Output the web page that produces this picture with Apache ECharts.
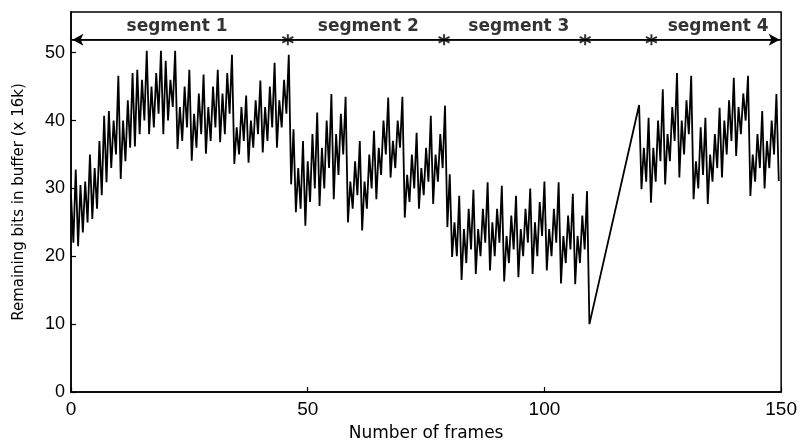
<!DOCTYPE html>
<html>
<head>
<meta charset="utf-8">
<script src="https://cdn.jsdelivr.net/npm/echarts@6/dist/echarts.min.js"></script>
<style>html,body{margin:0;padding:0;background:#fff}#c{width:800px;height:447px}</style>
</head>
<body>
<div id="c"></div>
<script>
// frame index 0..149 ; per frame the top and bottom of the buffer trace (x 16k bits)
const frameHigh = [
 29,32.8,30.5,31,35,33,37,40.7,41.4,40,
 46.6,40,43,47,47.5,46,50.3,45,47,50.3,
 48.8,46,50.3,42,45,47.5,41,44,46.8,42,
 45,47.5,44,47,49.7,39,42,43.7,40,43,
 45.9,42,45,48.5,43,46,49.7,38.7,33,37,
 34,38,41.2,36,40,43.9,38,41,43.5,31,
 34,37,31,35,38.5,36,40,43.4,37,40,
 43.5,32,35,38.2,33,36,40.7,35,38,42.2,
 32.1,25,28.9,24,27,29.8,24,27,30.9,25,
 27,30.4,23,26,28.9,24,27,30,25,28,
 31,24,27,30.9,23,26,29.2,23,26,29.6,
 null,null,null,null,null,null,null,null,null,null,
 42.3,36,40.4,36,40,44.6,38,42,47,40,
 43,46.6,34,39,40.4,35,38,41.9,40,43,
 46.3,42,44,46.6,35,38,41.4,37,40,43.9
];
const frameLow = [
 22,21.5,23.5,25,25.5,27,29,30.9,33,35,
 31.4,34,36,36.2,38,40,38,39,41,38,
 40,42,35.8,37,39,34.1,36,38,35.1,37,
 39,36.8,38,41,33.6,35,37,33.8,36,38,
 35.3,37,39,36,39,41,30.6,26.5,27,24.5,
 28,30,27.4,30,33,28.4,32,35,25,27,
 29,23.8,27,30,28.4,32,35,31.6,33,36,
 25.7,28,30,27,29,31,27.7,31,33,24.3,
 19.9,20,16.5,19,21,17.4,20,22,17.9,20,
 22,16.3,19,21,16.9,20,22,17.4,20,23,
 17.9,20,22,16,19,21,15.9,19,21,10,
 null,null,null,null,null,null,null,null,null,null,
 29.9,31,27.9,31,34,30.6,34,37,31.6,35,
 38,28.4,30,32,27.7,31,33,31.6,35,37,
 34.8,38,40,28.9,31,33,30,33,35,31.1
];
const segmentBounds = [45.8, 78.8, 108.6, 122.6];
const segmentLineLevel = 51.9;
const segmentNames = ['segment 1', 'segment 2', 'segment 3', 'segment 4'];
const segmentNameX = [22.4, 62.8, 94.6, 136.7];
const segmentNameLevel = 53.9;
const xTicks = [0, 50, 100, 150];
const yTicks = [0, 10, 20, 30, 40, 50];

const trace = [];
for (let i = 0; i < frameHigh.length; i++) {
  if (frameHigh[i] == null) continue;
  trace.push([i, frameHigh[i]]);
  trace.push([i + 0.5, frameLow[i]]);
}

const chart = echarts.init(document.getElementById('c'), null, {renderer: 'canvas'});
const star = 'path://M0,-5L0,5M-4.5,-2.6L4.5,2.6M-4.5,2.6L4.5,-2.6';
const chevron = 'path://M0,0L10,6L10,7.6L-1.2,1.2L-1.2,-1.2L10,-7.6L10,-6Z';
chart.setOption({
  animation: false,
  backgroundColor: '#fff',
  grid: {left: 71, right: 17, top: 12, bottom: 52, show: true, borderColor: '#000', borderWidth: 1.5, containLabel: false},
  xAxis: {
    type: 'value', min: 0, max: 150,
    name: 'Number of frames', nameLocation: 'middle', nameGap: 33,
    nameTextStyle: {fontFamily: 'DejaVu Sans', fontSize: 17, color: '#000'},
    axisLine: {show: true, lineStyle: {color: '#000', width: 1.5}},
    axisTick: {show: true, inside: true, length: 5, lineStyle: {color: '#000', width: 1.2}, customValues: xTicks},
    axisLabel: {color: '#000', fontFamily: 'Liberation Sans', fontSize: 19, margin: 8, customValues: xTicks},
    splitLine: {show: false}
  },
  yAxis: {
    type: 'value', min: 0, max: 56,
    name: 'Remaining bits in buffer (x 16k)', nameLocation: 'middle', nameGap: 44, nameRotate: 90,
    nameTextStyle: {fontFamily: 'DejaVu Sans', fontSize: 15, color: '#000'},
    axisLine: {show: true, lineStyle: {color: '#000', width: 1.5}},
    axisTick: {show: true, inside: true, length: 5, lineStyle: {color: '#000', width: 1.2}, customValues: yTicks},
    axisLabel: {color: '#000', fontFamily: 'Liberation Sans', fontSize: 18, margin: 6, customValues: yTicks},
    splitLine: {show: false}
  },
  series: [
    {
      type: 'line', data: trace, showSymbol: false, symbol: 'none',
      lineStyle: {color: '#000', width: 1.8}, z: 3
    },
    {
      type: 'line', data: [[0, segmentLineLevel], [150, segmentLineLevel]],
      symbol: 'none', lineStyle: {color: '#000', width: 1.5},
      markLine: {
        silent: true, symbol: ['arrow', 'arrow'], symbolSize: [9, 11],
        label: {show: false}, lineStyle: {color: '#000', width: 1.5, type: 'solid'},
        data: [[{coord: [0.3, segmentLineLevel]}, {coord: [149.7, segmentLineLevel]}]]
      }
    },
    {
      type: 'scatter', data: segmentBounds.map(x => [x, segmentLineLevel]),
      symbol: star, symbolSize: 11,
      itemStyle: {color: 'none', borderColor: '#000', borderWidth: 2}
    },
    {
      type: 'scatter', data: segmentNameX.map(x => [x, segmentNameLevel]),
      symbolSize: 0,
      label: {
        show: true, position: 'inside', color: '#000',
        fontFamily: 'DejaVu Sans', fontWeight: 'bold', fontSize: 17,
        formatter: p => segmentNames[p.dataIndex]
      }
    }
  ]
});
</script>
</body>
</html>
